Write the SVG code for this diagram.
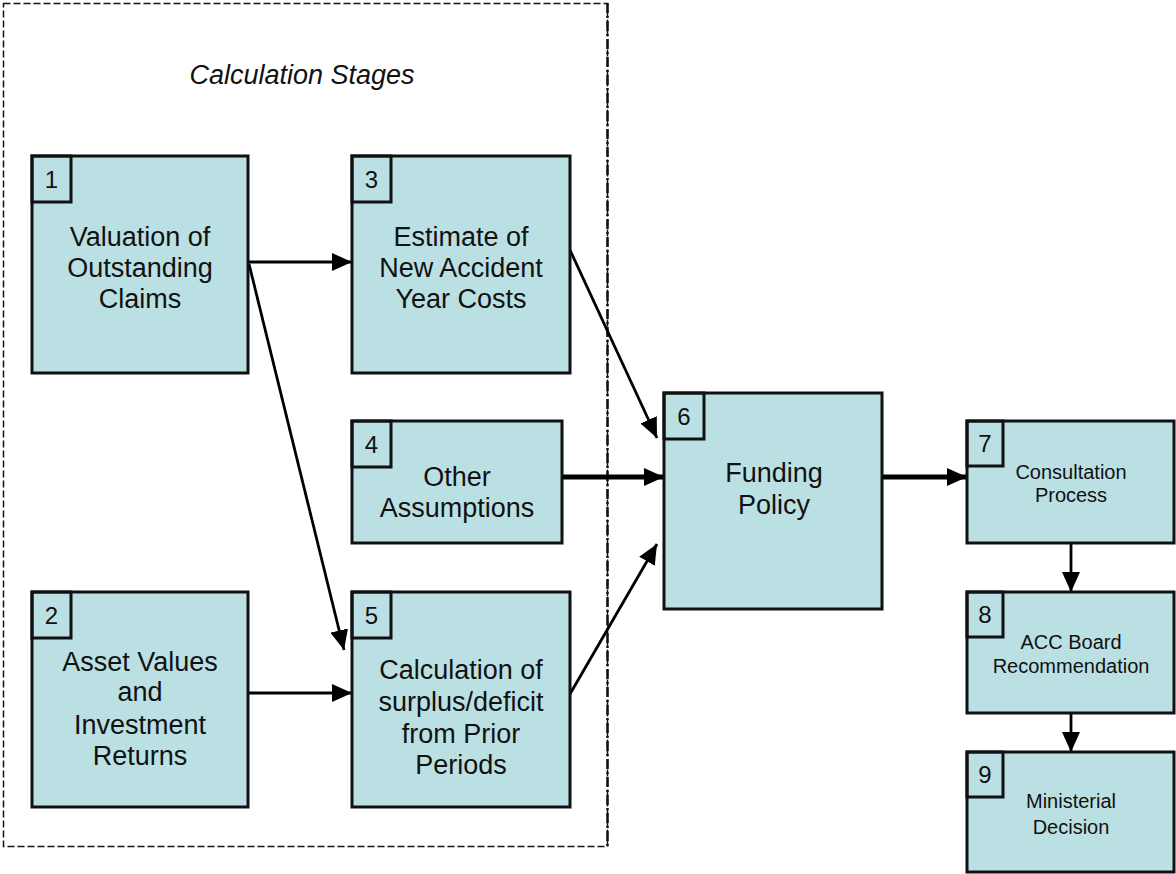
<svg xmlns="http://www.w3.org/2000/svg" width="1176" height="874" viewBox="0 0 1176 874">
<defs>
<style>
.box{fill:#bbe0e3;stroke:#111;stroke-width:3}
.num{fill:none;stroke:#111;stroke-width:3}
.t{font-family:"Liberation Sans",Arial,sans-serif;font-size:27px;fill:#111;text-anchor:middle}
.s{font-family:"Liberation Sans",Arial,sans-serif;font-size:20px;fill:#111;text-anchor:middle}
.n{font-family:"Liberation Sans",Arial,sans-serif;font-size:24px;fill:#111;text-anchor:middle}
.c{stroke:#000;stroke-width:2.8;fill:none}
.ct{stroke:#000;stroke-width:5;fill:none}
</style>
<marker id="ahb" viewBox="0 0 10 10" refX="10" refY="5" markerWidth="20" markerHeight="18" markerUnits="userSpaceOnUse" orient="auto" preserveAspectRatio="none">
<path d="M0,0 L10,5 L0,10 z" fill="#000"/>
</marker>
</defs>
<rect width="1176" height="874" fill="#fff"/>
<g id="frame">
<rect x="3.5" y="3.5" width="604" height="843" fill="none" stroke="#111" stroke-width="1.5" stroke-dasharray="7,3"/>
<line x1="607.5" y1="3" x2="607.5" y2="847" stroke="#111" stroke-width="2.5" stroke-dasharray="10,3,2,3"/>
<text x="302" y="84" class="t" font-style="italic">Calculation Stages</text>
</g>
<g id="connectors">
<line class="c" x1="248" y1="262" x2="352" y2="262" marker-end="url(#ahb)"/>
<line class="c" x1="249" y1="264" x2="344" y2="650" marker-end="url(#ahb)"/>
<line class="c" x1="570" y1="250" x2="657" y2="438" marker-end="url(#ahb)"/>
<line class="ct" x1="562" y1="477" x2="664" y2="477" marker-end="url(#ahb)"/>
<line class="c" x1="570" y1="694" x2="657" y2="544" marker-end="url(#ahb)"/>
<line class="c" x1="248" y1="693" x2="352" y2="693" marker-end="url(#ahb)"/>
<line class="ct" x1="882" y1="477" x2="967" y2="477" marker-end="url(#ahb)"/>
<line class="c" x1="1071" y1="544" x2="1071" y2="592" marker-end="url(#ahb)"/>
<line class="c" x1="1071" y1="713" x2="1071" y2="752" marker-end="url(#ahb)"/>
</g>
<g id="node1">
<rect class="box" x="32" y="156" width="216" height="217"/>
<rect class="num" x="32" y="156" width="39" height="46"/>
<text class="n" x="51.5" y="188">1</text>
<text class="t" x="140" y="246">Valuation of</text>
<text class="t" x="140" y="277">Outstanding</text>
<text class="t" x="140" y="308">Claims</text>
</g>
<g id="node2">
<rect class="box" x="32" y="592" width="216" height="215"/>
<rect class="num" x="32" y="592" width="39" height="46"/>
<text class="n" x="51.5" y="624">2</text>
<text class="t" x="140" y="671">Asset Values</text>
<text class="t" x="140" y="701">and</text>
<text class="t" x="140" y="734">Investment</text>
<text class="t" x="140" y="765">Returns</text>
</g>
<g id="node3">
<rect class="box" x="352" y="156" width="218" height="217"/>
<rect class="num" x="352" y="156" width="39" height="46"/>
<text class="n" x="371.5" y="188">3</text>
<text class="t" x="461" y="246">Estimate of</text>
<text class="t" x="461" y="277">New Accident</text>
<text class="t" x="461" y="308">Year Costs</text>
</g>
<g id="node4">
<rect class="box" x="352" y="421" width="210" height="122"/>
<rect class="num" x="352" y="421" width="39" height="46"/>
<text class="n" x="371.5" y="453">4</text>
<text class="t" x="457" y="486">Other</text>
<text class="t" x="457" y="517">Assumptions</text>
</g>
<g id="node5">
<rect class="box" x="352" y="592" width="218" height="215"/>
<rect class="num" x="352" y="592" width="39" height="46"/>
<text class="n" x="371.5" y="624">5</text>
<text class="t" x="461" y="679">Calculation of</text>
<text class="t" x="461" y="711">surplus/deficit</text>
<text class="t" x="461" y="743">from Prior</text>
<text class="t" x="461" y="774">Periods</text>
</g>
<g id="node6">
<rect class="box" x="664" y="393" width="218" height="216"/>
<rect class="num" x="664" y="393" width="40" height="46"/>
<text class="n" x="684" y="425">6</text>
<text class="t" x="774" y="482">Funding</text>
<text class="t" x="774" y="514">Policy</text>
</g>
<g id="node7">
<rect class="box" x="967" y="421" width="207" height="122"/>
<rect class="num" x="967" y="421" width="36" height="45"/>
<text class="n" x="985" y="452">7</text>
<text class="s" x="1071" y="479">Consultation</text>
<text class="s" x="1071" y="502">Process</text>
</g>
<g id="node8">
<rect class="box" x="967" y="592" width="207" height="121"/>
<rect class="num" x="967" y="592" width="36" height="45"/>
<text class="n" x="985" y="623">8</text>
<text class="s" x="1071" y="649">ACC Board</text>
<text class="s" x="1071" y="673">Recommendation</text>
</g>
<g id="node9">
<rect class="box" x="967" y="752" width="207" height="120"/>
<rect class="num" x="967" y="752" width="36" height="45"/>
<text class="n" x="985" y="783">9</text>
<text class="s" x="1071" y="808">Ministerial</text>
<text class="s" x="1071" y="834">Decision</text>
</g>
</svg>
